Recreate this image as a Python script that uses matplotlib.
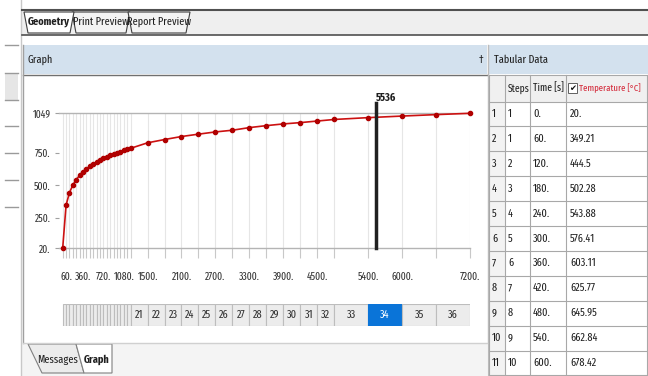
import matplotlib as mpl
mpl.use('Agg')
import matplotlib.pyplot as plt
from matplotlib.patches import Rectangle, Polygon

# narrow UI-like font, DejaVu as fallback
plt.rcParams['font.family'] = ['Fira Sans Extra Condensed', 'DejaVu Sans']

times = [0, 60, 120, 180, 240, 300, 360, 420, 480, 540, 600,
         660, 720, 780, 840, 900, 960, 1020, 1080, 1140, 1200,
         1500, 1800, 2100, 2400, 2700, 3000, 3300, 3600, 3900, 4200, 4500, 4800,
         5400, 6000, 6600, 7200]
temps = [20, 349.21, 444.5, 502.28, 543.88, 576.41, 603.11, 625.77, 645.95, 662.84, 678.42,
         692, 705, 717, 728, 738, 748, 757, 766, 774, 782,
         824, 849, 872, 890, 907, 920, 940, 955, 968, 978, 990, 1002,
         1016, 1028, 1039, 1049]
steps = list(range(1, 37))
labeled_x = [60, 360, 720, 1080, 1500, 2100, 2700, 3300, 3900, 4500, 5400, 6000, 7200]
y_ticks = [20, 250, 500, 750, 1049]
cursor_t = 5536
active_step = 34

# table rows (first 11 rows shown)
table_steps = [1, 1, 2, 3, 4, 5, 6, 7, 8, 9, 10]
table_times = times[:11]
table_temps = temps[:11]

W, H = 648, 376
FS = 8
TXT = '#202020'
fig = plt.figure(figsize=(W / 100, H / 100), dpi=100)

# background "window" drawn in pixel coordinates
bg = fig.add_axes([0, 0, 1, 1])
bg.set_xlim(0, W)
bg.set_ylim(H, 0)
bg.axis('off')

# left strip
bg.add_patch(Rectangle((5, 73), 13, 27, fc='#e6e6e6', ec='none'))
for yy in [45, 73, 100, 126, 153, 180, 207]:
    bg.plot([5, 18], [yy, yy], color='#9a9a9a', lw=1)
bg.plot([21, 21], [0, H], color='#c8c8c8', lw=1)

# top tab strip
bg.add_patch(Rectangle((22, 10), W - 22, 25, fc='#efefef', ec='none'))
bg.plot([22, W], [10, 10], color='#505050', lw=1.5)
bg.plot([22, W], [35, 35], color='#505050', lw=1.2)
tabs = [('Geometry', 24, 74, True), ('Print Preview', 72, 130, False),
        ('Report Preview', 128, 190, False)]
for name, x0, x1, sel in tabs:
    bg.add_patch(Polygon([(x0, 12), (x0 + 4, 33), (x1 - 4, 33), (x1, 12)],
                         closed=True, fc='white' if sel else '#f4f4f4',
                         ec='#404040', lw=0.8, zorder=3 if sel else 2))
    bg.text((x0 + x1) / 2, 22, name, ha='center', va='center', fontsize=FS,
            fontweight='bold' if sel else 'normal', color=TXT, zorder=4)

# panel headers
bg.add_patch(Rectangle((23, 45), 464, 29, fc='#d3e1ee', ec='none'))
bg.add_patch(Rectangle((489, 45), W - 489, 29, fc='#d3e1ee', ec='none'))
bg.plot([23, 487], [74.5, 74.5], color='#707070', lw=1)
bg.text(27, 60, 'Graph', ha='left', va='center', fontsize=FS, color=TXT)
bg.text(481, 60, '\u2020', ha='center', va='center', fontsize=8, color=TXT)
bg.text(494, 60, 'Tabular Data', ha='left', va='center', fontsize=FS, color=TXT)
bg.plot([488, 488], [45, H], color='#bcbcbc', lw=1)

# graph panel border and bottom tabs
bg.plot([23, 23], [45, 343], color='#a0a0a0', lw=1)
bg.plot([23, 487], [343, 343], color='#d0d0d0', lw=1)
bg.add_patch(Rectangle((22, 344), 465, 32, fc='#f4f4f4', ec='none'))
bg.add_patch(Polygon([(28, 344), (42, 373), (84, 373), (76, 344)], closed=True,
                     fc='#ececec', ec='#808080', lw=0.8))
bg.add_patch(Polygon([(76, 344), (84, 373), (112, 373), (112, 344)], closed=True,
                     fc='white', ec='#808080', lw=0.8))
bg.text(58, 360, 'Messages', ha='center', va='center', fontsize=FS, color=TXT)
bg.text(97, 360, 'Graph', ha='center', va='center', fontsize=FS,
        fontweight='bold', color=TXT)

# tabular data
col_x = [489, 505, 530, 566, 647]
head_top, head_bot, row_h = 75, 101.5, 24.9
bg.add_patch(Rectangle((col_x[0], head_top), col_x[-1] - col_x[0], head_bot - head_top,
                       fc='#f0f0f0', ec='none'))
bg.add_patch(Rectangle((col_x[0], head_bot), col_x[1] - col_x[0], H - head_bot,
                       fc='#f3f3f3', ec='none'))
for cx in col_x:
    bg.plot([cx, cx], [head_top, H], color='#a8a8a8', lw=0.8)
bg.plot([col_x[0], col_x[-1]], [head_top, head_top], color='#a8a8a8', lw=0.8)
for k in range(len(table_steps) + 1):
    yy = head_bot + k * row_h
    bg.plot([col_x[0], col_x[-1]], [yy, yy], color='#a8a8a8', lw=0.8)
hy = (head_top + head_bot) / 2
bg.text(508, hy, 'Steps', ha='left', va='center', fontsize=7.5, color=TXT)
bg.text(533, hy, 'Time [s]', ha='left', va='center', fontsize=7.5, color=TXT)
bg.add_patch(Rectangle((568, hy - 5), 9, 10, fc='white', ec='#606060', lw=0.7))
bg.text(572.5, hy + 0.5, '\u2714', ha='center', va='center', fontsize=6, color='#101010',
        family=['DejaVu Sans'])
bg.text(579, hy, 'Temperature [\u00b0C]', ha='left', va='center', fontsize=6.8,
        color='#d42a3a')


def fmt(v):
    return '%g.' % v if float(v).is_integer() else '%g' % v


for i, (s, t, v) in enumerate(zip(table_steps, table_times, table_temps)):
    yy = head_bot + (i + 0.5) * row_h
    bg.text(492, yy, str(i + 1), ha='left', va='center', fontsize=FS, color=TXT)
    bg.text(508, yy, str(s), ha='left', va='center', fontsize=FS, color=TXT)
    bg.text(533, yy, fmt(t), ha='left', va='center', fontsize=FS, color=TXT)
    bg.text(570, yy, fmt(v), ha='left', va='center', fontsize=FS, color=TXT)

# the graph
xmin, xmax = -65, 7200
ax = fig.add_axes([59 / W, 1 - 248.3 / H, 411 / W, 135 / H])
ax.patch.set_alpha(0)
ax.set_xlim(xmin, xmax)
ax.set_ylim(20, 1049)
for side in ['left', 'right']:
    ax.spines[side].set_visible(False)
for side in ['top', 'bottom']:
    ax.spines[side].set_color('#b4b4b4')
    ax.spines[side].set_linewidth(1)

ax.set_xticks(times)
ax.set_xticklabels([fmt(t) if t in labeled_x else '' for t in times])
ax.tick_params(axis='x', length=7, width=0.8, color='#c8c8c8', pad=10,
               labelsize=7.5, labelcolor='#303030')
ax.grid(axis='x', color='#e6e6e6', lw=0.8)
ax.set_yticks(y_ticks)
ax.set_yticklabels([fmt(v) if v != 1049 else '1049' for v in y_ticks])
ax.tick_params(axis='y', length=3, width=0.8, color='#a0a0a0', pad=3,
               labelsize=7.5, labelcolor='#303030')

ax.plot(times, temps, color='#cc1111', lw=1.2, marker='o', markersize=3,
        markerfacecolor='#b00000', markeredgecolor='#b00000', clip_on=False, zorder=3)
ax.axvline(cursor_t, ymin=0, ymax=1.076, color='#202020', lw=2.5, clip_on=False, zorder=4)
ax.text(cursor_t, 1125, str(cursor_t), transform=ax.transData, ha='left', va='bottom',
        fontsize=FS, fontweight='bold', color=TXT, clip_on=False)

# step bar under the graph
sb = fig.add_axes([59 / W, 1 - 326 / H, 411 / W, 22 / H])
sb.set_xlim(xmin, xmax)
sb.set_ylim(0, 1)
sb.axis('off')
starts = times[:-1]
ends = times[1:]
for s, a, b in zip(steps, starts, ends):
    on = s == active_step
    sb.bar(a, 1, width=b - a, align='edge', color='#0a74d8' if on else '#ececec',
           edgecolor='#0a74d8' if on else '#bdbdbd', linewidth=0.8)
    if s > 20:
        sb.text((a + b) / 2, 0.5, str(s), ha='center', va='center', fontsize=FS,
                color='white' if on else '#303030')

fig.savefig('out.png', dpi=100)
